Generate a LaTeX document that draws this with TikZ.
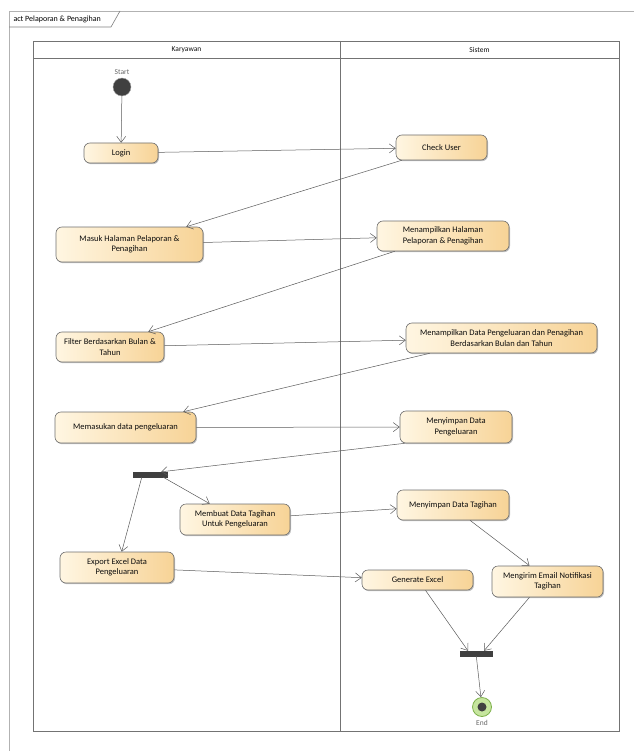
\documentclass[tikz,border=0pt]{standalone}
\usepackage{fontspec}
\setmainfont{Carlito}
\usetikzlibrary{arrows.meta,shadows}
\definecolor{actleft}{HTML}{FFF6E2}
\definecolor{actright}{HTML}{F7D396}
\definecolor{actline}{HTML}{6E6E6E}
\definecolor{flowline}{HTML}{5A5A5A}
\definecolor{endgreen}{HTML}{C6E59E}
\definecolor{endring}{HTML}{7DB04A}
\definecolor{barfill}{HTML}{404040}

\begin{document}
\begin{tikzpicture}
    [x=1pt,y=-1pt,
     every node/.style={font=\fontsize{8.5}{10.5}\selectfont, text=black!95},
     act/.style={rectangle, rounded corners=6pt, draw=actline, line width=0.6pt, left color=actleft, right color=actright, align=center, inner sep=1pt, drop shadow={shadow xshift=1pt, shadow yshift=-1.2pt, fill=black, opacity=.25}},
     bar/.style={rectangle, fill=barfill, draw=barfill, minimum height=5pt, inner sep=0pt},
     lane/.style={draw=black!55, line width=0.8pt},
     flow/.style={draw=flowline, line width=0.5pt, -{Straight Barb[length=6pt,width=9pt]}}]
    \useasboundingbox (0,0) rectangle (634,751);

    \draw[black!30, line width=0.8pt] (634,11) -- (9,11) -- (9,751);
    \draw[black!50, line width=0.6pt] (9,27) -- (111,27) -- (120,11);
    \node[anchor=west, font=\fontsize{8}{10}\selectfont, text=black] (title) at (10,19) {act Pelaporan \& Penagihan};

    \draw[lane] (33,41) rectangle (619,731);
    \draw[lane] (33,58) -- (619,58);
    \draw[lane] (340,41) -- (340,731);
    \node[font=\fontsize{7.5}{9}\selectfont] (karyawan) at (186.5,49.5) {Karyawan};
    \node[font=\fontsize{7.5}{9}\selectfont] (sistem) at (479.5,49.5) {Sistem};

    \node[circle, fill=barfill, draw=black!35, minimum size=18pt, inner sep=0pt, label={[font=\fontsize{7.5}{9}\selectfont, text=black!60]above:Start}] (start) at (122,87) {};
    \node[act, minimum width=74pt, minimum height=20pt] (login) at (121,153) {Login};
    \node[act, minimum width=91pt, minimum height=25pt] (chk) at (441.5,147.5) {Check User};
    \node[act, minimum width=147pt, minimum height=35pt] (masuk) at (129.5,244.5) {Masuk Halaman Pelaporan \&\\Penagihan};
    \node[act, minimum width=132pt, minimum height=30pt] (menhal) at (443,236) {Menampilkan Halaman\\Pelaporan \& Penagihan};
    \node[act, minimum width=108pt, minimum height=30pt] (filter) at (110,347) {Filter Berdasarkan Bulan \&\\Tahun};
    \node[act, minimum width=191pt, minimum height=30pt] (mendata) at (501.5,338) {Menampilkan Data Pengeluaran dan Penagihan\\Berdasarkan Bulan dan Tahun};
    \node[act, minimum width=141pt, minimum height=31pt] (masukan) at (125.5,427.5) {Memasukan data pengeluaran};
    \node[act, minimum width=112pt, minimum height=32pt] (simpeng) at (456,427) {Menyimpan Data\\Pengeluaran};
    \node[bar, minimum width=34pt] (fork) at (150,474.5) {};
    \node[act, minimum width=110pt, minimum height=31pt] (buat) at (235,519.5) {Membuat Data Tagihan\\Untuk Pengeluaran};
    \node[act, minimum width=112pt, minimum height=30pt] (simtag) at (453,505) {Menyimpan Data Tagihan};
    \node[act, minimum width=114pt, minimum height=31pt] (export) at (117,567.5) {Export Excel Data\\Pengeluaran};
    \node[act, minimum width=111pt, minimum height=20pt] (gen) at (417.5,580) {Generate Excel};
    \node[act, minimum width=111pt, minimum height=31pt] (kirim) at (547.5,581.5) {Mengirim Email Notifikasi\\Tagihan};
    \node[bar, minimum width=32pt] (join) at (476,653.5) {};
    \node[circle, fill=endgreen, draw=endring, line width=0.8pt, minimum size=19pt, inner sep=0pt, label={[font=\fontsize{7.5}{9}\selectfont, text=black!60]below:End}] (final) at (482,707) {};
    \node[circle, fill=barfill, minimum size=9pt, inner sep=0pt] (finaldot) at (final) {};

    \draw[flow] (start) -- (login);
    \draw[flow] (login) -- (chk);
    \draw[flow] ([xshift=6pt]chk.south west) -- ([xshift=-17pt]masuk.north east);
    \draw[flow] (masuk) -- (menhal);
    \draw[flow] ([xshift=18pt]menhal.south west) -- ([xshift=-16pt]filter.north east);
    \draw[flow] (filter) -- (mendata);
    \draw[flow] ([xshift=24pt]mendata.south west) -- ([xshift=-13pt]masukan.north east);
    \draw[flow] (masukan) -- (simpeng);
    \draw[flow] ([xshift=5pt]simpeng.south west) -- ([xshift=-6pt]fork.north east);
    \draw[flow] ([xshift=-4pt]fork.south east) -- ([xshift=30pt]buat.north west);
    \draw[flow] ([xshift=9pt]fork.south west) -- ([xshift=62pt]export.north west);
    \draw[flow] (buat) -- (simtag);
    \draw[flow] ([xshift=17pt]simtag.south) -- ([xshift=-18pt]kirim.north);
    \draw[flow] (export) -- (gen);
    \draw[flow] ([xshift=8pt]gen.south) -- ([xshift=-8pt]join.north);
    \draw[flow] ([xshift=-18pt]kirim.south) -- ([xshift=8pt]join.north);
    \draw[flow] (join) -- (final);
  \end{tikzpicture}
\end{document}
